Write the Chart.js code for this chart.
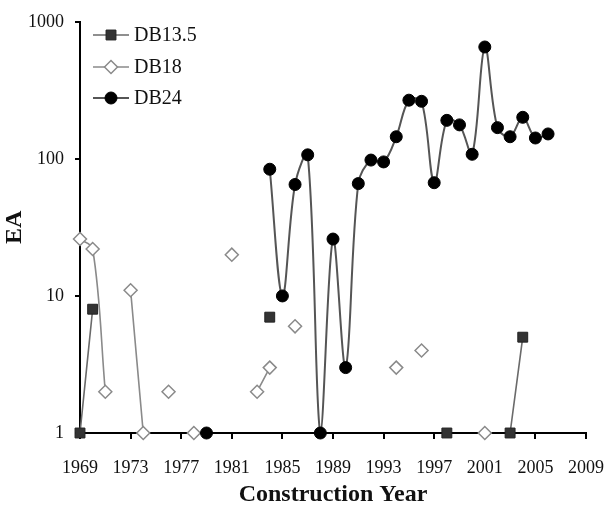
<!DOCTYPE html>
<html>
<head>
<meta charset="utf-8">
<script src="https://cdn.jsdelivr.net/npm/chart.js@4/dist/chart.umd.min.js"></script>
<style>
  html, body { margin: 0; padding: 0; background: #fff; }
  #wrap { width: 608px; height: 506px; }
</style>
</head>
<body>
<div id="wrap"><canvas id="c" width="608" height="506"></canvas></div>
<script>
// ---- data ----
const seriesNames = ['DB13.5', 'DB18', 'DB24'];

const db135Years  = [1969, 1970, 1984, 1998, 2003, 2004];
const db135Values = [1, 8, 7, 1, 1, 5];

const db18Years  = [1969, 1970, 1971, 1973, 1974, 1976, 1978, 1981, 1983, 1984, 1986, 1994, 1996, 2001];
const db18Values = [26, 22, 2, 11, 1, 2, 1, 20, 2, 3, 6, 3, 4, 1];

const db24Years  = [1979, 1984, 1985, 1986, 1987, 1988, 1989, 1990, 1991, 1992, 1993, 1994, 1995, 1996, 1997, 1998, 1999, 2000, 2001, 2002, 2003, 2004, 2005, 2006];
const db24Values = [1, 84, 10, 65, 107, 1, 26, 3, 66, 98, 95, 145, 268, 263, 67, 191, 177, 108, 655, 169, 145, 201, 142, 152];

const xTickLabels = [1969, 1973, 1977, 1981, 1985, 1989, 1993, 1997, 2001, 2005, 2009];
const yTickLabels = [1, 10, 100, 1000];

const xTitle = 'Construction Year';
const yTitle = 'EA';

// build a point list across all years; missing years become gaps (null)
const allYears = [];
for (let y = 1969; y <= 2006; y++) allYears.push(y);
function toPoints(years, values) {
  return allYears.map(yr => {
    const i = years.indexOf(yr);
    return { x: yr, y: i >= 0 ? values[i] : null };
  });
}

const FONT = "'Liberation Serif', 'Times New Roman', serif";

const styles = [
  { line: '#6a6a6a', lw: 1.6, style: 'rect',    radius: 7,   fill: '#333333', stroke: '#222222', bw: 1 },
  { line: '#8a8a8a', lw: 1.6, style: 'rectRot', radius: 6.5, fill: '#ffffff', stroke: '#8a8a8a', bw: 1.5 },
  { line: '#555555', lw: 2,   style: 'circle',  radius: 6,   fill: '#000000', stroke: '#000000', bw: 1 }
];

const datasets = [
  toPoints(db135Years, db135Values),
  toPoints(db18Years, db18Values),
  toPoints(db24Years, db24Values)
].map((pts, i) => ({
  label: seriesNames[i],
  data: pts,
  borderColor: styles[i].line,
  borderWidth: styles[i].lw,
  pointStyle: styles[i].style,
  pointRadius: styles[i].radius,
  pointHoverRadius: styles[i].radius,
  pointBackgroundColor: styles[i].fill,
  pointBorderColor: styles[i].stroke,
  pointBorderWidth: styles[i].bw,
  tension: 0.35,
  spanGaps: false,
  clip: false,
  order: 2 - i
}));

function drawMarker(ctx, st, x, y) {
  const r = st.radius;
  ctx.save();
  ctx.fillStyle = st.fill;
  ctx.strokeStyle = st.stroke;
  ctx.lineWidth = st.bw;
  ctx.beginPath();
  if (st.style === 'circle') {
    ctx.arc(x, y, r, 0, Math.PI * 2);
  } else if (st.style === 'rect') {
    const s = Math.SQRT1_2 * r;
    ctx.rect(x - s, y - s, 2 * s, 2 * s);
  } else {
    ctx.moveTo(x - r, y); ctx.lineTo(x, y - r); ctx.lineTo(x + r, y); ctx.lineTo(x, y + r); ctx.closePath();
  }
  ctx.fill();
  ctx.stroke();
  ctx.restore();
}

const legendPlugin = {
  id: 'excelLegend',
  afterDraw(chart) {
    const ctx = chart.ctx;
    const ys = [35, 67, 98];
    seriesNames.forEach((name, i) => {
      const st = styles[i];
      const y = ys[i];
      ctx.save();
      ctx.strokeStyle = st.line;
      ctx.lineWidth = st.lw;
      ctx.beginPath();
      ctx.moveTo(93, y); ctx.lineTo(129, y);
      ctx.stroke();
      ctx.restore();
      drawMarker(ctx, st, 111, y);
      ctx.save();
      ctx.fillStyle = '#111';
      ctx.font = '20px ' + FONT;
      ctx.textBaseline = 'middle';
      ctx.textAlign = 'left';
      ctx.fillText(name, 134, y + 1);
      ctx.restore();
    });
  }
};

new Chart(document.getElementById('c'), {
  type: 'line',
  data: { datasets },
  plugins: [legendPlugin],
  options: {
    responsive: false,
    devicePixelRatio: 1,
    animation: false,
    layout: { padding: { left: 0, top: 19, right: 22, bottom: 0 } },
    plugins: {
      legend: { display: false },
      tooltip: { enabled: false }
    },
    scales: {
      x: {
        type: 'linear',
        min: 1969,
        max: 2009,
        afterBuildTicks: (scale) => { scale.ticks = xTickLabels.map(v => ({ value: v })); },
        afterFit: (scale) => { scale.height = 73; scale.paddingLeft = 0; scale.paddingRight = 0; },
        ticks: {
          color: '#111',
          font: { family: FONT, size: 18 },
          padding: 18,
          maxRotation: 0,
          autoSkip: false,
          callback: (v) => String(v)
        },
        grid: { display: true, drawOnChartArea: false, drawTicks: true, tickLength: 6, color: '#000', lineWidth: 2 },
        border: { display: true, color: '#000', width: 2 },
        title: {
          display: true,
          text: xTitle,
          color: '#111',
          font: { family: FONT, size: 24, weight: 'bold' },
          padding: { top: 0, bottom: -3 }
        }
      },
      y: {
        type: 'logarithmic',
        min: 1,
        max: 1000,
        afterBuildTicks: (scale) => { scale.ticks = yTickLabels.map(v => ({ value: v })); },
        afterFit: (scale) => { scale.width = 80; },
        ticks: {
          color: '#111',
          font: { family: FONT, size: 18 },
          padding: 11,
          autoSkip: false,
          callback: (v) => String(v)
        },
        grid: { display: true, drawOnChartArea: false, drawTicks: true, tickLength: 5, color: '#000', lineWidth: 2 },
        border: { display: true, color: '#000', width: 2 },
        title: {
          display: true,
          text: yTitle,
          color: '#111',
          font: { family: FONT, size: 24, weight: 'bold' },
          padding: { top: 0, bottom: 0 }
        }
      }
    }
  }
});
</script>
</body>
</html>
